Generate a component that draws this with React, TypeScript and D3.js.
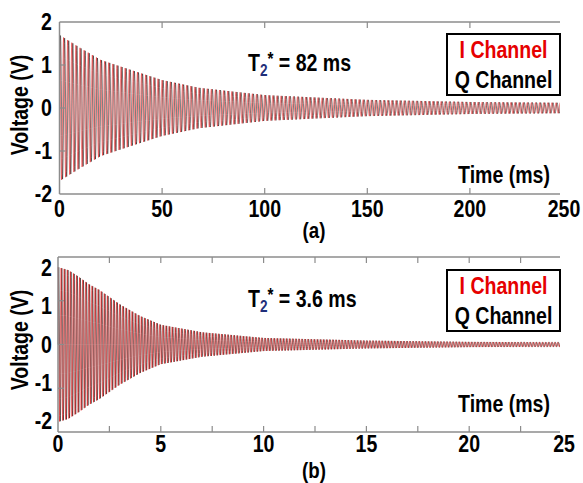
import React from "react";
import * as d3 from "d3";

// Envelope of the decaying signal (time in ms, volts)
const envTimeA = [0, 5, 10, 20, 37, 50, 68, 100, 127, 150, 200, 250];
const envAmpA = [1.7, 1.55, 1.4, 1.12, 0.85, 0.65, 0.47, 0.3, 0.24, 0.19, 0.14, 0.12];
const periodA = 2.0; // ms per oscillation
const envTimeB = [0, 0.5, 1, 1.5, 2, 3, 4, 5, 7, 10, 15, 20, 25];
const envAmpB = [1.77, 1.7, 1.55, 1.38, 1.25, 0.92, 0.65, 0.45, 0.28, 0.15, 0.09, 0.06, 0.05];
const periodB = 0.15; // ms per oscillation

const xTicksA = [0, 50, 100, 150, 200, 250];
const xTickLabelsA = ["0", "50", "100", "150", "200", "250"];
const xMinorA: number[] = [];
const xTicksB = [0, 5, 10, 15, 20, 25];
const xTickLabelsB = ["0", "5", "10", "15", "20", "25"];
const xMinorB = [2.5, 7.5, 12.5, 17.5, 22.5];
const yTicks = [-2, -1, 0, 1, 2];
const yTickLabels = ["-2", "-1", "0", "1", "2"];

const legendLabels = ["I Channel", "Q Channel"];
const seriesColors = ["#e60000", "#000000"];
const t2Labels = ["82 ms", "3.6 ms"];
const panelLabels = ["(a)", "(b)"];

const FONT = "'Liberation Sans', Arial, sans-serif";
const SX = 0.85;

function NText(props: {
  x: number;
  y: number;
  anchor?: "start" | "middle" | "end";
  size?: number;
  fill?: string;
  rotate?: number;
  children: React.ReactNode;
}) {
  const { x, y, anchor = "start", size = 23, fill = "#000", rotate = 0, children } = props;
  return (
    <g transform={`translate(${x},${y}) rotate(${rotate}) scale(${SX},1)`}>
      <text x={0} y={0} textAnchor={anchor} fontFamily={FONT} fontWeight="bold" fontSize={size} fill={fill}>
        {children}
      </text>
    </g>
  );
}

function buildSeries(envT: number[], envA: number[], period: number, tMax: number) {
  const env = d3.scaleLinear().domain(envT).range(envA).clamp(true);
  const step = period / 16;
  const n = Math.round(tMax / step);
  const I: [number, number][] = [];
  const Q: [number, number][] = [];
  for (let k = 0; k <= n; k++) {
    const t = k * step;
    const a = env(t);
    const ph = (2 * Math.PI * t) / period;
    I.push([t, a * Math.cos(ph)]);
    Q.push([t, a * Math.sin(ph)]);
  }
  return { I, Q };
}

type PanelProps = {
  id: string;
  xDomain: [number, number];
  xRange: [number, number];
  yRange: [number, number];
  axisEnd: number;
  envT: number[];
  envA: number[];
  period: number;
  ticks: number[];
  tickLabels: string[];
  minor: number[];
  yLabelFactor: number;
  yLabelCenter: number;
  xLabelBaseline: number;
  timeBaseline: number;
  legendTop: number;
  t2Baseline: number;
  t2Label: string;
  panelLabel: string;
  panelBaseline: number;
};

function Panel(p: PanelProps) {
  const x = d3.scaleLinear().domain(p.xDomain).range(p.xRange);
  const y = d3.scaleLinear().domain([-2, 2]).range(p.yRange);
  const { I, Q } = buildSeries(p.envT, p.envA, p.period, p.xDomain[1]);
  const line = d3
    .line<[number, number]>()
    .x((d) => x(d[0]))
    .y((d) => y(d[1]));
  const x0 = x(p.xDomain[0]);
  const yTop = p.yRange[1];
  const yBot = p.yRange[0];
  const y0 = y(0);
  const axisColor = "#8c8c8c";
  const tl = 6;
  return (
    <g>
      <defs>
        <clipPath id={"clip-" + p.id}>
          <rect x={x0 - 2} y={yTop - 4} width={p.axisEnd - x0 + 2} height={yBot - yTop + 8} />
        </clipPath>
      </defs>
      <g clipPath={`url(#clip-${p.id})`}>
        <path d={line(Q) || ""} fill="none" stroke={seriesColors[1]} strokeWidth={0.6} strokeOpacity={0.85} />
        <path d={line(I) || ""} fill="none" stroke={seriesColors[0]} strokeWidth={0.6} strokeOpacity={0.8} />
      </g>
      {/* axes */}
      <line x1={x0} x2={p.axisEnd} y1={yBot} y2={yBot} stroke={axisColor} strokeWidth={1.5} />
      <line x1={x0} x2={p.axisEnd} y1={yTop} y2={yTop} stroke={axisColor} strokeWidth={1.5} />
      <line x1={x0} x2={x0} y1={yTop} y2={yBot} stroke={axisColor} strokeWidth={1.5} />
      {[...p.ticks, ...p.minor]
        .filter((v) => x(v) < p.axisEnd - 1 && v !== p.xDomain[0])
        .map((v, i) => (
          <g key={"xt" + i}>
            <line x1={x(v)} x2={x(v)} y1={yBot} y2={yBot - tl} stroke={axisColor} strokeWidth={1.2} />
            <line x1={x(v)} x2={x(v)} y1={yTop} y2={yTop + tl} stroke={axisColor} strokeWidth={1.2} />
          </g>
        ))}
      {yTicks
        .filter((v) => Math.abs(v) < 2)
        .map((v, i) => (
          <line key={"yt" + i} x1={x0} x2={x0 + tl} y1={y(v)} y2={y(v)} stroke={axisColor} strokeWidth={1.2} />
        ))}
      {p.ticks.map((v, i) => (
        <NText key={"xl" + i} x={Math.min(x(v), 564)} y={p.xLabelBaseline} anchor="middle">
          {p.tickLabels[i]}
        </NText>
      ))}
      {yTicks.map((v, i) => (
        <NText key={"yl" + i} x={52} y={y0 + (y(v) - y0) * p.yLabelFactor + 8} anchor="end">
          {yTickLabels[i]}
        </NText>
      ))}
      <NText x={28} y={p.yLabelCenter} anchor="middle" rotate={-90}>
        Voltage (V)
      </NText>
      <NText x={550} y={p.timeBaseline} anchor="end">
        Time (ms)
      </NText>
      {/* T2* label */}
      <NText x={248} y={p.t2Baseline}>
        <tspan>T</tspan>
        <tspan fontSize={16} dy={5} fill="#1f2f7a">2</tspan>
        <tspan fontSize={18} dy={-11}>*</tspan>
        <tspan dy={6}>{" = " + p.t2Label}</tspan>
      </NText>
      {/* legend */}
      <rect x={447} y={p.legendTop} width={113} height={61} fill="#fff" stroke="#000" strokeWidth={2} />
      {legendLabels.map((lab, i) => (
        <NText key={"lg" + i} x={503.5} y={p.legendTop + 24 + i * 30} anchor="middle" fill={seriesColors[i]}>
          {lab}
        </NText>
      ))}
      <NText x={314} y={p.panelBaseline} anchor="middle" size={22}>
        {p.panelLabel}
      </NText>
    </g>
  );
}

export default function App() {
  return (
    <svg width={583} height={483} style={{ position: "absolute", left: 0, top: 0, background: "#fff" }}>
      <rect width={583} height={483} fill="#fff" />
      <Panel
        id="a"
        xDomain={[0, 250]}
        xRange={[59.5, 572.5]}
        yRange={[194, 22]}
        axisEnd={560}
        envT={envTimeA}
        envA={envAmpA}
        period={periodA}
        ticks={xTicksA}
        tickLabels={xTickLabelsA}
        minor={xMinorA}
        yLabelFactor={1}
        yLabelCenter={105}
        xLabelBaseline={217}
        timeBaseline={183}
        legendTop={34}
        t2Baseline={71}
        t2Label={t2Labels[0]}
        panelLabel={panelLabels[0]}
        panelBaseline={238}
      />
      <Panel
        id="b"
        xDomain={[0, 25]}
        xRange={[58, 572]}
        yRange={[432, 257]}
        axisEnd={560}
        envT={envTimeB}
        envA={envAmpB}
        period={periodB}
        ticks={xTicksB}
        tickLabels={xTickLabelsB}
        minor={xMinorB}
        yLabelFactor={0.87}
        yLabelCenter={340}
        xLabelBaseline={452}
        timeBaseline={412}
        legendTop={270}
        t2Baseline={307}
        t2Label={t2Labels[1]}
        panelLabel={panelLabels[1]}
        panelBaseline={478}
      />
    </svg>
  );
}
